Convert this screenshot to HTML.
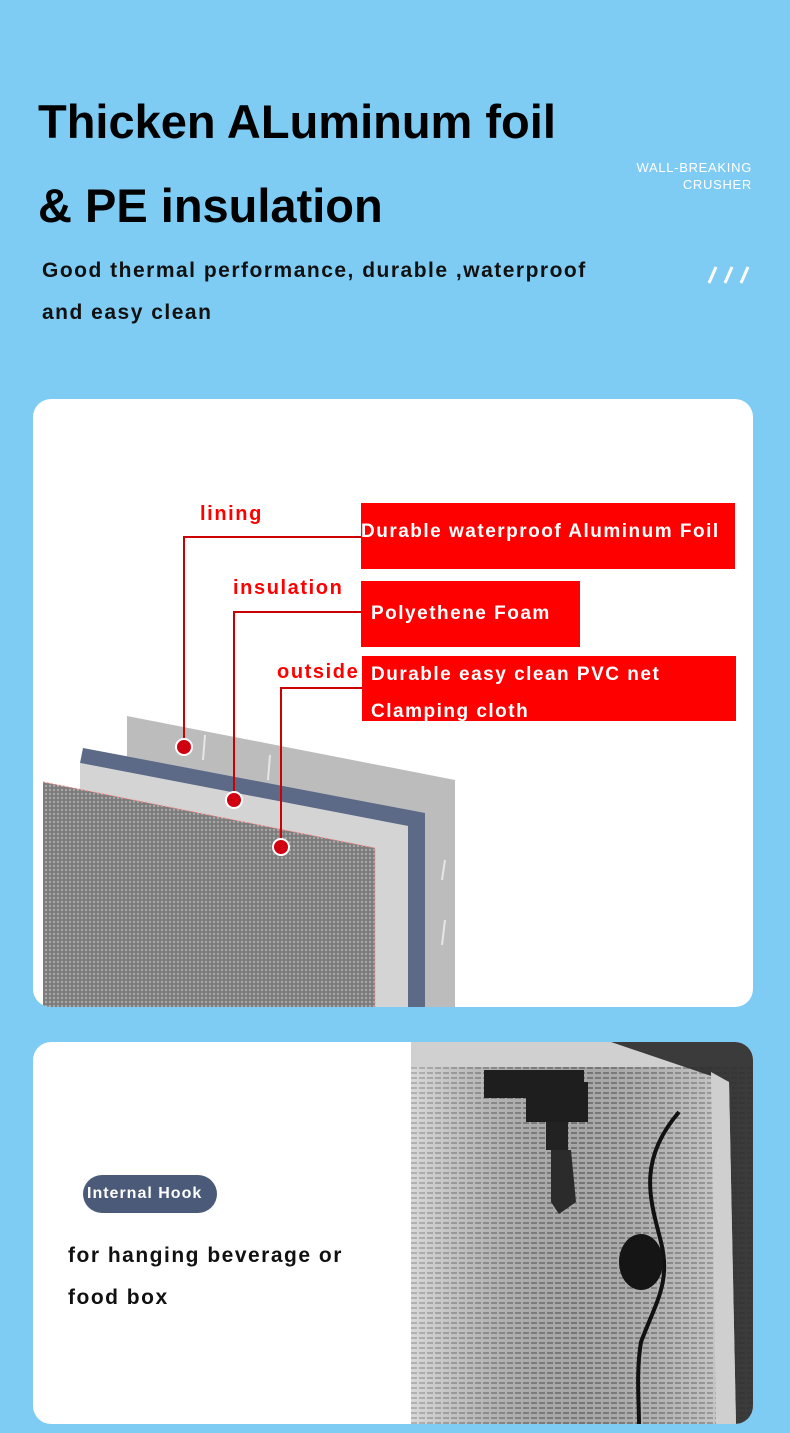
<!DOCTYPE html>
<html><head><meta charset="utf-8"><style>
*{margin:0;padding:0;box-sizing:border-box}
body{width:790px;height:1433px;background:#7ecbf3;position:relative;overflow:hidden;font-family:"Liberation Sans",sans-serif}
.a{position:absolute;white-space:nowrap}
.h{font-weight:bold;font-size:47px;color:#000;left:38px}
.s{font-weight:bold;font-size:21px;color:#111;left:42px;letter-spacing:1.5px}
.card{position:absolute;left:33px;width:720px;background:#fff;border-radius:18px;overflow:hidden}
.rb{position:absolute;background:#ff0000;color:#fff;font-weight:bold;font-size:19px;white-space:nowrap;letter-spacing:1.5px}
.lbl{position:absolute;color:#f00;font-weight:bold;font-size:20px;letter-spacing:1.6px}
</style></head><body>
<div class="a h" style="top:94px">Thicken ALuminum foil</div>
<div class="a h" style="top:178px">&amp; PE insulation</div>
<div class="a s" style="top:259px">Good thermal performance, durable ,waterproof</div>
<div class="a s" style="top:301px">and easy clean</div>
<div class="a" style="right:38px;top:159px;color:#fff;font-size:13px;text-align:right;line-height:17px;letter-spacing:0.7px">WALL-BREAKING<br>CRUSHER</div>
<svg class="a" style="left:706px;top:263px" width="46" height="22"><g stroke="#fff" stroke-width="3"><line x1="3" y1="20" x2="10" y2="4"/><line x1="19" y1="20" x2="26" y2="4"/><line x1="35" y1="20" x2="42" y2="4"/></g></svg>

<div class="card" style="top:399px;height:608px">
<svg width="720" height="608" style="position:absolute;left:0;top:0">
<defs><pattern id="mesh" width="4" height="4" patternUnits="userSpaceOnUse"><rect width="4" height="4" fill="#7c7c7c"/><circle cx="2" cy="2" r="1.2" fill="#a8a8a8"/></pattern></defs>
<g transform="translate(-33,-399)">
<polygon points="127,716 455,780 455,1007 127,1007" fill="#bcbcbc"/>
<g stroke="#e6e6e6" stroke-width="2"><line x1="205" y1="735" x2="203" y2="760"/><line x1="270" y1="755" x2="268" y2="780"/><line x1="445" y1="860" x2="442" y2="880"/><line x1="445" y1="920" x2="442" y2="945"/></g>
<polygon points="83,748 425,813 425,1007 408,1007 408,826 80,763" fill="#5c6a88"/>
<polygon points="80,763 408,826 408,1007 80,1007" fill="#d4d4d4"/>
<polygon points="43,782 375,848 375,1007 43,1007" fill="url(#mesh)"/>
<polyline points="43,782 375,848 375,1007" fill="none" stroke="#ff8080" stroke-width="1" stroke-dasharray="2,2"/>
<g fill="none" stroke="#c00" stroke-width="2">
<polyline points="184,747 184,537 362,537"/>
<polyline points="234,800 234,612 362,612"/>
<polyline points="281,847 281,688 362,688"/>
</g>
<g fill="#d00010" stroke="#fff" stroke-width="2">
<circle cx="184" cy="747" r="8"/><circle cx="234" cy="800" r="8"/><circle cx="281" cy="847" r="8"/>
</g>
</g></svg>
<div class="lbl" style="left:167px;top:104px">lining</div>
<div class="lbl" style="left:200px;top:178px">insulation</div>
<div class="lbl" style="left:244px;top:262px">outside</div>
<div class="rb" style="left:328px;top:104px;width:374px;height:66px;line-height:58px;padding-left:0">Durable waterproof Aluminum Foil</div>
<div class="rb" style="left:328px;top:182px;width:219px;height:66px;line-height:66px;padding-left:10px">Polyethene Foam</div>
<div class="rb" style="left:329px;top:257px;width:374px;height:65px;padding-left:9px;line-height:38px">Durable easy clean PVC net<br><span style="position:relative;top:-1px">Clamping cloth</span></div>
</div>

<div class="card" style="top:1042px;height:382px">
<div style="position:absolute;left:50px;top:133px;width:134px;height:38px;border-radius:19px;background:#4b5a78;color:#fff;font-weight:bold;font-size:16px;line-height:38px;padding-left:4px;letter-spacing:1px;white-space:nowrap">Internal Hook</div>
<div class="a" style="left:35px;top:193px;font-weight:bold;font-size:21px;color:#111;line-height:42px;letter-spacing:1.5px">for hanging beverage or<br>food box</div>
<svg width="342" height="382" style="position:absolute;left:378px;top:0">
<defs><pattern id="st" width="8" height="5" patternUnits="userSpaceOnUse"><rect width="8" height="5" fill="#c4c4c4"/><rect y="0" width="6" height="2" fill="#8a8a8a"/></pattern>
<linearGradient id="g1" x1="0" x2="1"><stop offset="0" stop-color="#fff" stop-opacity=".35"/><stop offset=".5" stop-color="#000" stop-opacity=".15"/><stop offset="1" stop-color="#fff" stop-opacity=".3"/></linearGradient></defs>
<rect width="342" height="382" fill="url(#st)"/>
<rect width="342" height="382" fill="url(#g1)"/>
<rect x="0" y="0" width="342" height="25" fill="#d0d0d0"/>
<path d="M200,0 L342,0 L342,382 L325,382 L318,40 Z" fill="#2a2a2a" opacity=".9"/>
<path d="M300,30 L318,40 L325,382 L305,382 Z" fill="#cfcfcf"/>
<rect x="73" y="28" width="100" height="28" fill="#1e1e1e"/>
<rect x="115" y="40" width="62" height="40" fill="#1e1e1e"/>
<rect x="135" y="80" width="22" height="28" fill="#222"/>
<path d="M140,108 L160,108 L165,160 L148,172 L140,160 Z" fill="#2b2b2b"/>
<path d="M268,70 C225,120 240,160 250,200 C260,240 245,260 230,300 C225,330 228,360 228,382" fill="none" stroke="#111" stroke-width="4"/>
<ellipse cx="230" cy="220" rx="22" ry="28" fill="#151515"/>
</svg>
</div>
</body></html>
